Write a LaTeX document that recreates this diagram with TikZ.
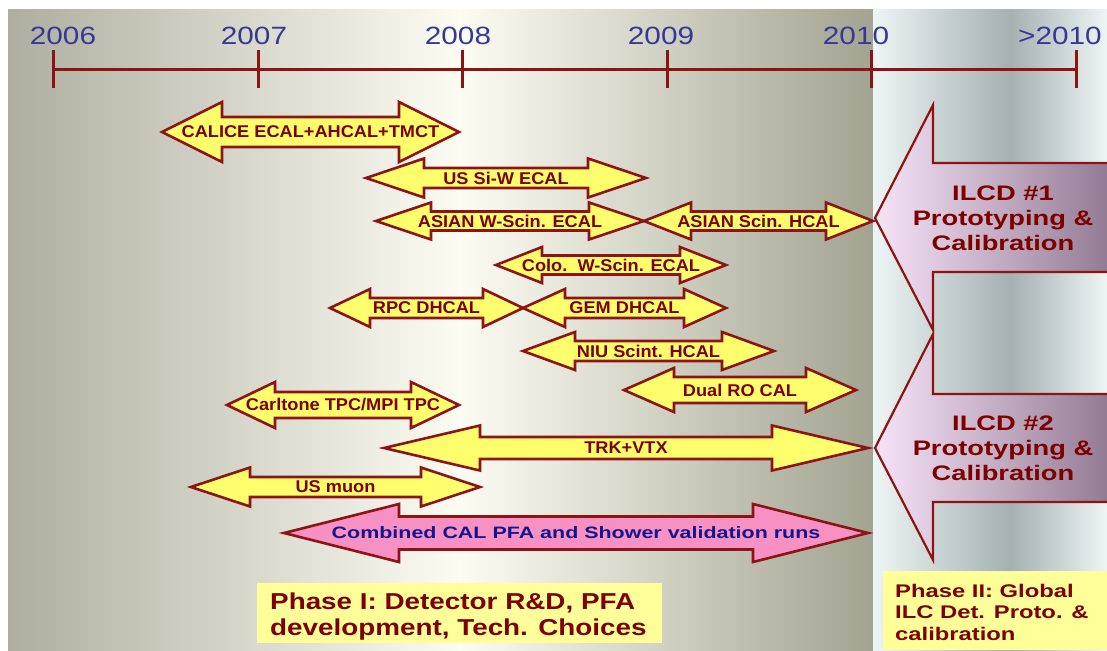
\documentclass[tikz,border=0pt]{standalone}
\usepackage{fontspec}
\setmainfont{Liberation Sans}
\newfontfamily\yrfont[FakeStretch=1.19]{Liberation Sans}
\newfontfamily\ylfont[FakeStretch=1.07]{Liberation Sans}
\newfontfamily\wdfont[FakeStretch=1.3]{Liberation Sans}
\newfontfamily\phfont[FakeStretch=1.21]{Liberation Sans}
\newfontfamily\phIIfont[FakeStretch=1.3]{Liberation Sans}
\definecolor{bgGray}{RGB}{174,174,160}
\definecolor{bgCream}{RGB}{252,252,243}
\definecolor{bgDark}{RGB}{163,163,146}
\definecolor{rpLight}{RGB}{238,245,245}
\definecolor{rpDark}{RGB}{165,176,176}
\definecolor{darkred}{RGB}{140,20,20}
\definecolor{txtred}{RGB}{125,0,0}
\definecolor{yrblue}{RGB}{55,55,150}
\definecolor{ayellow}{RGB}{255,255,110}
\definecolor{apink}{RGB}{247,145,195}
\definecolor{navy}{RGB}{20,20,140}
\definecolor{lavL}{RGB}{247,228,247}
\definecolor{lavR}{RGB}{148,124,148}
\definecolor{boxyellow}{RGB}{255,255,153}
\newcommand\dbarrow[7]{%
  \draw[#1] (#2,#4) -- (#2+#5,#4-#6) -- (#2+#5,#4-#7) -- (#3-#5,#4-#7) -- (#3-#5,#4-#6)
    -- (#3,#4) -- (#3-#5,#4+#6) -- (#3-#5,#4+#7) -- (#2+#5,#4+#7) -- (#2+#5,#4+#6) -- cycle;}
\tikzset{
  yarrow/.style={draw=darkred, line width=2.6pt, fill=ayellow, line join=miter},
  parrow/.style={draw=darkred, line width=2.6pt, fill=apink, line join=miter},
  tl/.style={draw=darkred, line width=3pt},
  yr/.style={font=\yrfont\fontsize{25}{28}\selectfont, text=yrblue, inner sep=0pt},
  ylab/.style={font=\ylfont\bfseries\fontsize{17}{20}\selectfont, text=txtred, inner sep=0pt},
  plab/.style={font=\wdfont\bfseries\fontsize{16.5}{20}\selectfont, text=navy, inner sep=0pt},
  ilcd/.style={font=\wdfont\bfseries\fontsize{21}{25}\selectfont, text=txtred, align=center, inner sep=0pt},
  bigarrow/.style={draw=darkred, line width=2.2pt, line join=miter},
  phasebox/.style={fill=boxyellow},
}
\begin{document}
\begin{tikzpicture}[x=1pt,y=-1pt]
\useasboundingbox (0,0) rectangle (1107,650);
\fill[white] (0,0) rectangle (1107,650);
% backgrounds
\shade[left color=bgGray, right color=bgCream] (8,10) rectangle (460,650);
\shade[left color=bgCream, right color=bgDark] (460,10) rectangle (873,650);
\shade[left color=rpLight, right color=rpDark] (873,10) rectangle (1010,650);
\shade[left color=rpDark, right color=rpLight] (1010,10) rectangle (1107,650);
% timeline
\foreach \x/\n in {53/t0,258/t1,462/t2,667/t3,871/t4,1076/t5}{
  \coordinate (\n top) at (\x,50);
  \coordinate (\n bot) at (\x,88);
  \coordinate (\n) at (\x,70);
}
\draw[tl] (t0) -- (t5);
\foreach \n in {t0,t1,t2,t3,t4,t5}{\draw[tl] (\n top) -- (\n bot);}
\node[yr] (y0) at (63,36) {2006};
\node[yr] (y1) at (254,36) {2007};
\node[yr] (y2) at (458,36) {2008};
\node[yr] (y3) at (661,36) {2009};
\node[yr] (y4) at (856,36) {2010};
\node[yr] (y5) at (1060,36) {>2010};
% yellow arrows
\dbarrow{yarrow}{162}{459}{132}{60}{30}{15}
\node[ylab] (calice) at (310.5,132) {CALICE ECAL+AHCAL+TMCT};
\dbarrow{yarrow}{366}{646}{178}{58}{19.5}{10}
\node[ylab] (ussiw) at (506,178) {US Si-W ECAL};
\dbarrow{yarrow}{376}{644}{221}{55}{18.5}{9.5}
\node[ylab] (asianw) at (510,221) {ASIAN W-Scin. ECAL};
\dbarrow{yarrow}{644}{873}{221}{47}{18.5}{9.5}
\node[ylab] (asianh) at (758.5,221) {ASIAN Scin. HCAL};
\dbarrow{yarrow}{496}{726}{265}{46}{18}{9.5}
\node[ylab] (colo) at (611,265) {Colo.\ \ W-Scin. ECAL};
\dbarrow{yarrow}{330}{523}{308}{40}{19}{10}
\node[ylab] (rpc) at (426.5,308) {RPC DHCAL};
\dbarrow{yarrow}{523}{726}{308}{42}{19}{10}
\node[ylab] (gem) at (624.5,308) {GEM DHCAL};
\dbarrow{yarrow}{523}{774}{351}{52}{19}{10}
\node[ylab] (niu) at (648.5,351) {NIU Scint. HCAL};
\dbarrow{yarrow}{624}{856}{390}{50}{22}{13}
\node[ylab] (dual) at (740,390) {Dual RO CAL};
\dbarrow{yarrow}{227}{459}{405}{48}{23}{13}
\node[ylab] (carl) at (343,405) {Carltone TPC/MPI TPC};
\dbarrow{yarrow}{384}{868}{448}{96}{22.5}{11}
\node[ylab] (trk) at (626,448) {TRK+VTX};
\dbarrow{yarrow}{191}{480}{487}{59}{19.5}{10}
\node[ylab] (muon) at (335.5,487) {US muon};
\dbarrow{parrow}{284}{868}{533}{115}{29}{16.5}
\node[plab] (comb) at (576,533) {Combined CAL PFA and Shower validation runs};
% big ILCD arrows
\shade[left color=lavL, right color=lavR] (875,218) -- (933,105) -- (933,163) -- (1107,163) -- (1107,272) -- (933,272) -- (933,330) -- cycle;
\draw[bigarrow] (1108,163) -- (933,163) -- (933,105) -- (875,218) -- (933,330) -- (933,272) -- (1108,272);
\node[ilcd] (ilcd1) at (1003,218) {ILCD \#1\\Prototyping \&\\Calibration};
\shade[left color=lavL, right color=lavR] (875,448) -- (933,334) -- (933,394) -- (1107,394) -- (1107,502) -- (933,502) -- (933,560) -- cycle;
\draw[bigarrow] (1108,394) -- (933,394) -- (933,334) -- (875,448) -- (933,560) -- (933,502) -- (1108,502);
\node[ilcd] (ilcd2) at (1003,448) {ILCD \#2\\Prototyping \&\\Calibration};
% phase boxes
\fill[phasebox] (257,583) rectangle (662,643);
\node[font=\phfont\bfseries\fontsize{23}{26}\selectfont, text=txtred, align=left, anchor=west, inner sep=0pt] (ph1) at (270,617) {Phase I: Detector R\&D, PFA\\development, Tech. Choices};
\fill[phasebox] (883,571) rectangle (1107,650);
\node[font=\phIIfont\bfseries\fontsize{18.3}{21.5}\selectfont, text=txtred, align=left, anchor=west, inner sep=0pt] (ph2) at (895,612) {Phase II: Global\\ILC Det. Proto. \&\\calibration};
\end{tikzpicture}
\end{document}
